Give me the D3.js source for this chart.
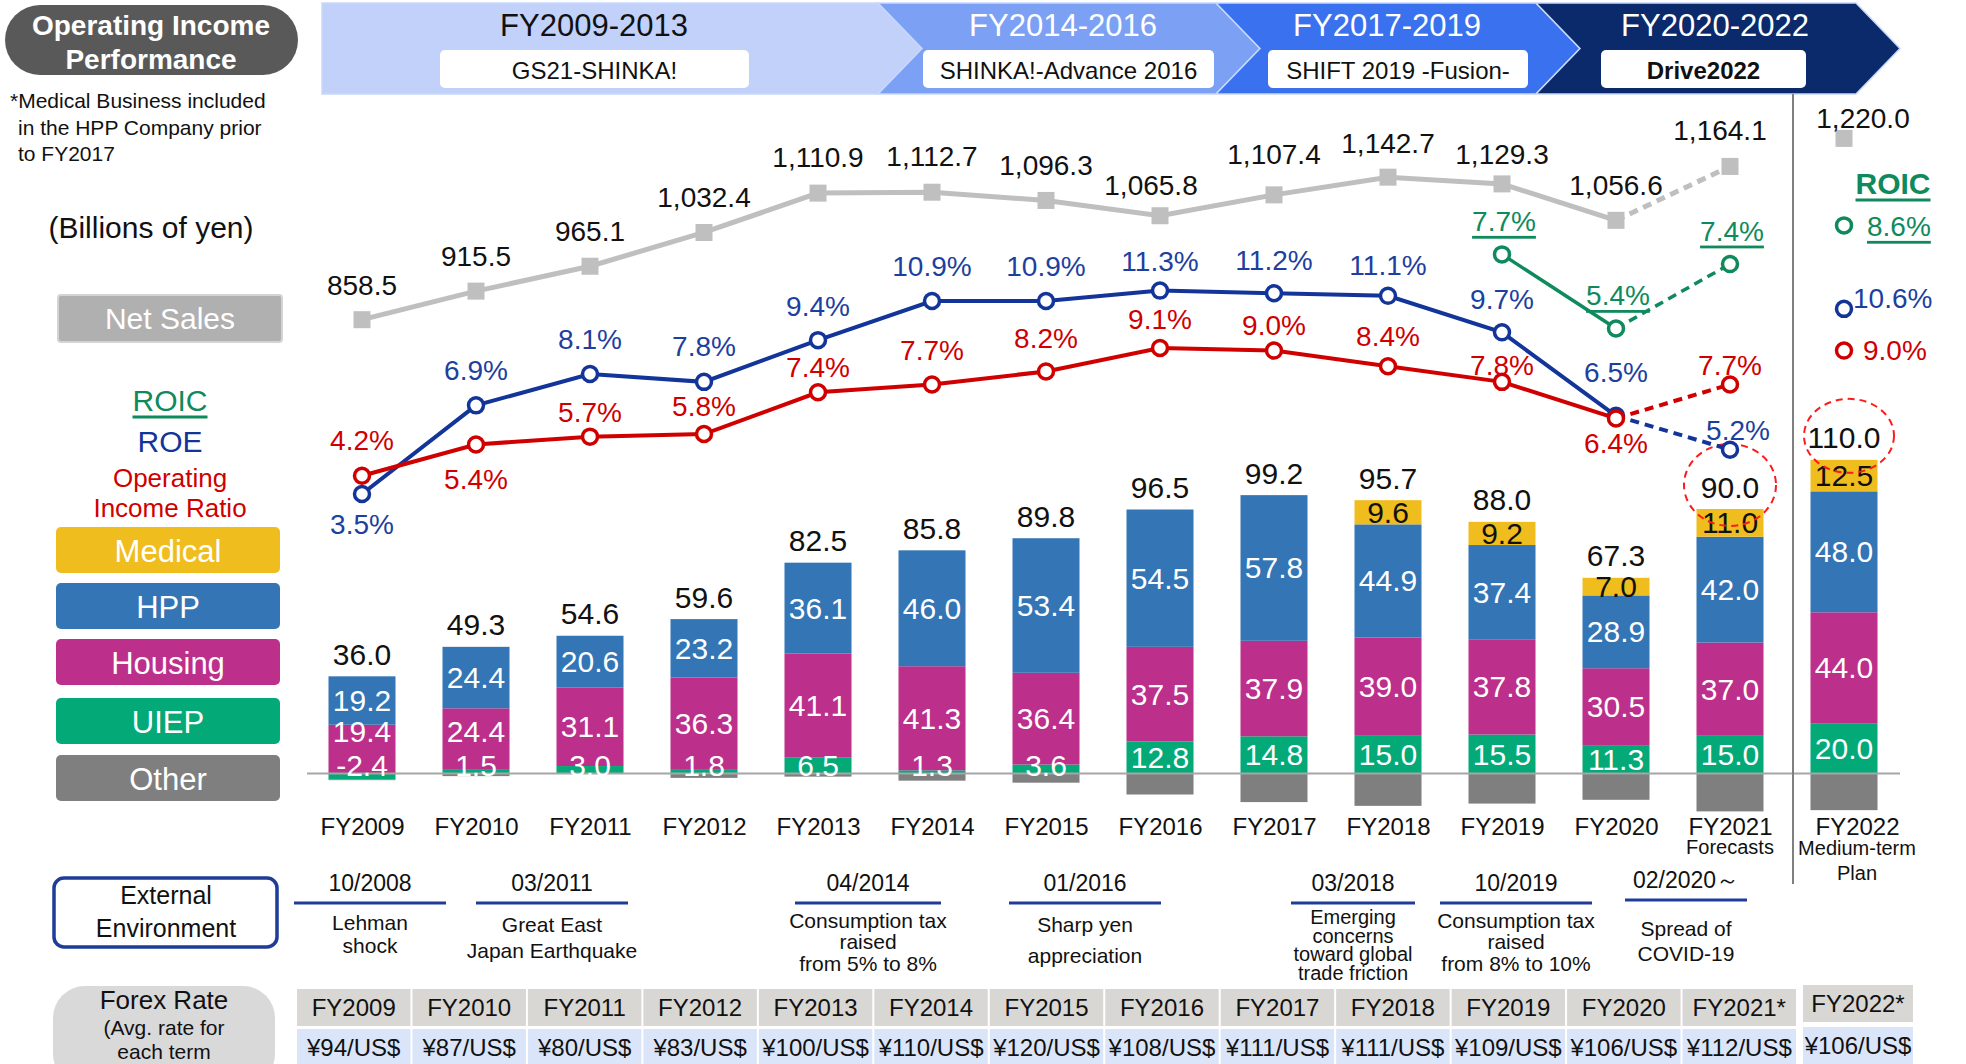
<!DOCTYPE html>
<html>
<head>
<meta charset="utf-8">
<script src="https://cdn.jsdelivr.net/npm/d3@7"></script>
<style>
html, body { margin: 0; padding: 0; background: #fff; }
svg { display: block; font-family: 'Liberation Sans', Arial, sans-serif; }
</style>
</head>
<body>
<div id="chart"></div>
<script>

/****************************************
 *
 * Data
 *
 ****************************************/

const years = ['FY2009', 'FY2010', 'FY2011', 'FY2012', 'FY2013', 'FY2014', 'FY2015',
	'FY2016', 'FY2017', 'FY2018', 'FY2019', 'FY2020', 'FY2021', 'FY2022']

// operating income by segment (billions of yen)
const medical = [0, 0, 0, 0, 0, 0, 0, 0, 0, 9.6, 9.2, 7.0, 11.0, 12.5]
const hpp = [19.2, 24.4, 20.6, 23.2, 36.1, 46.0, 53.4, 54.5, 57.8, 44.9, 37.4, 28.9, 42.0, 48.0]
const housing = [19.4, 24.4, 31.1, 36.3, 41.1, 41.3, 36.4, 37.5, 37.9, 39.0, 37.8, 30.5, 37.0, 44.0]
const uiep = [-2.4, 1.5, 3.0, 1.8, 6.5, 1.3, 3.6, 12.8, 14.8, 15.0, 15.5, 11.3, 15.0, 20.0]
const other = [-0.2, -1.0, -0.1, -1.7, -1.2, -2.8, -3.6, -8.3, -11.3, -12.8, -11.9, -10.4, -15.0, -14.5]
const totals = [36.0, 49.3, 54.6, 59.6, 82.5, 85.8, 89.8, 96.5, 99.2, 95.7, 88.0, 67.3, 90.0, 110.0]

// net sales (billions of yen) and ratios (%)
const netSales = [858.5, 915.5, 965.1, 1032.4, 1110.9, 1112.7, 1096.3, 1065.8, 1107.4, 1142.7, 1129.3, 1056.6, 1164.1, 1220.0]
const roe = [3.5, 6.9, 8.1, 7.8, 9.4, 10.9, 10.9, 11.3, 11.2, 11.1, 9.7, 6.5, 5.2, 10.6]
const opRatio = [4.2, 5.4, 5.7, 5.8, 7.4, 7.7, 8.2, 9.1, 9.0, 8.4, 7.8, 6.4, 7.7, 9.0]
const roic = [null, null, null, null, null, null, null, null, null, null, 7.7, 5.4, 7.4, 8.6]

// medium-term plans
const periods = ['FY2009-2013', 'FY2014-2016', 'FY2017-2019', 'FY2020-2022']
const plans = ['GS21-SHINKA!', 'SHINKA!-Advance 2016', 'SHIFT 2019 -Fusion-', 'Drive2022']

// external environment
const eventDates = ['10/2008', '03/2011', '04/2014', '01/2016', '03/2018', '10/2019', '02/2020～']
const eventTexts = [
	['Lehman', 'shock'],
	['Great East', 'Japan Earthquake'],
	['Consumption tax', 'raised', 'from 5% to 8%'],
	['Sharp yen', 'appreciation'],
	['Emerging', 'concerns', 'toward global', 'trade friction'],
	['Consumption tax', 'raised', 'from 8% to 10%'],
	['Spread of', 'COVID-19']
]

// forex (yen per US$)
const forexYears = ['FY2009', 'FY2010', 'FY2011', 'FY2012', 'FY2013', 'FY2014', 'FY2015',
	'FY2016', 'FY2017', 'FY2018', 'FY2019', 'FY2020', 'FY2021*', 'FY2022*']
const forexRate = [94, 87, 80, 83, 100, 110, 120, 108, 111, 111, 109, 106, 112, 106]

const segmentNames = ['Medical', 'HPP', 'Housing', 'UIEP', 'Other']
const segmentColors = ['#f0bd1e', '#3375b5', '#bc2f8a', '#04a978', '#7f7f7f']

/****************************************
 *
 * Chart
 *
 ****************************************/

let width = 1966
	, height = 1064
	, barWidth = 67
	, fmt = d3.format(',.1f')
	, pct = function (v) { return v.toFixed(1) + '%' }
	, color = d3.scaleOrdinal(segmentNames, segmentColors)
	, x = d3.scalePoint()
		.domain(years)
		.range([362, 1844])
	, yBar = d3.scaleLinear()
		.domain([0, 100])
		.range([773.6, 521.6])
	, ySales = d3.scaleLinear()
		.domain([858.5, 1220])
		.range([319.7, 138.4])
	, yPct = d3.scaleLinear()
		.domain([3.5, 11.3])
		.range([494, 290.6])
	, yRoic = d3.scaleLinear()
		.domain([5.4, 7.7])
		.range([328.5, 254.4])

const navy = '#13359a'
	, navyText = '#1d3fa0'
	, red = '#d00000'
	, green = '#0f8a5c'
	, gray = '#bfbfbf'

const svg = d3.select('#chart')
	.append('svg')
	.attr('width', width)
	.attr('height', height)

function label(g, txt, px, py, size, fill, anchor) {
	return g.append('text')
		.attr('x', px)
		.attr('y', py)
		.attr('text-anchor', anchor || 'middle')
		.attr('dominant-baseline', 'central')
		.style('font-size', size + 'px')
		.attr('fill', fill || '#000')
		.text(txt)
}

/**
 * top band with the medium-term plans
 */
const band = svg.append('g')
	, bandEdges = [322, 878, 1216, 1536, 1856]
	, tip = 44
	, bandTop = 3
	, bandBot = 94
	, bandMid = (bandTop + bandBot) / 2
	, bandFill = ['#c1d1fa', '#7ca1f4', '#3a71ef', '#0b2a6c']
	, bandInk = ['#111', '#fff', '#fff', '#fff']
	, planBox = [[440, 749], [923, 1214], [1268, 1528], [1601, 1806]]
	, periodX = [594, 1063, 1387, 1715]

periods.forEach(function (p, i) {
	let x0 = bandEdges[i]
		, x1 = bandEdges[i + 1]
		, d = 'M' + x0 + ',' + bandTop + 'L' + x1 + ',' + bandTop + 'L' + (x1 + tip) + ',' + bandMid
			+ 'L' + x1 + ',' + bandBot + 'L' + x0 + ',' + bandBot
	if (i > 0) d += 'L' + (x0 + tip) + ',' + bandMid
	band.append('path')
		.attr('d', d + 'Z')
		.attr('fill', bandFill[i])
		.attr('stroke', '#c9d7fb')
		.attr('stroke-width', 1.5)
	label(band, p, periodX[i], 25, 31, bandInk[i])
	band.append('rect')
		.attr('x', planBox[i][0])
		.attr('y', 50)
		.attr('width', planBox[i][1] - planBox[i][0])
		.attr('height', 38)
		.attr('rx', 5)
		.attr('fill', '#fff')
	label(band, plans[i], (planBox[i][0] + planBox[i][1]) / 2, 70, 24, '#111')
		.style('font-weight', i === 3 ? 'bold' : 'normal')
})

/**
 * title, note and legend
 */
const side = svg.append('g')

side.append('rect')
	.attr('x', 5).attr('y', 5)
	.attr('width', 293).attr('height', 70)
	.attr('rx', 35)
	.attr('fill', '#595959')
label(side, 'Operating Income', 151, 25, 28, '#fff').style('font-weight', 'bold')
label(side, 'Performance', 151, 59, 28, '#fff').style('font-weight', 'bold')

label(side, '*Medical Business included', 10, 100, 21, '#111', 'start')
label(side, 'in the HPP Company prior', 18, 127, 21, '#111', 'start')
label(side, 'to FY2017', 18, 153, 21, '#111', 'start')

label(side, '(Billions of yen)', 151, 227, 30, '#111')

side.append('rect')
	.attr('x', 58).attr('y', 295)
	.attr('width', 224).attr('height', 47)
	.attr('rx', 3)
	.attr('fill', '#b0b0b0')
	.attr('stroke', '#d4d4d4')
	.attr('stroke-width', 2)
label(side, 'Net Sales', 170, 318, 30, '#fff')

label(side, 'ROIC', 170, 400, 30, green).style('text-decoration', 'underline')
label(side, 'ROE', 170, 441, 30, navy)
label(side, 'Operating', 170, 478, 26, red)
label(side, 'Income Ratio', 170, 508, 26, red)

const legendTop = [527, 583, 639, 698, 755]
segmentNames.forEach(function (name, i) {
	side.append('rect')
		.attr('x', 56).attr('y', legendTop[i])
		.attr('width', 224).attr('height', 46)
		.attr('rx', 5)
		.attr('fill', color(name))
	label(side, name, 168, legendTop[i] + 24, 31, '#fff')
})

/**
 * stacked bars of operating income
 */
const rows = years.map(function (y, i) {
	return { year: y, Medical: medical[i], HPP: hpp[i], Housing: housing[i], UIEP: uiep[i], Other: other[i] }
})

const stacked = d3.stack()
	.keys(['UIEP', 'Housing', 'HPP', 'Medical', 'Other'])
	.offset(d3.stackOffsetDiverging)(rows)

const bars = svg.append('g')

stacked.forEach(function (s) {
	bars.append('g')
		.attr('fill', color(s.key))
		.selectAll('rect')
		.data(s.filter(function (d) { return d[1] !== d[0] }))
		.join('rect')
		.attr('x', function (d) { return x(d.data.year) - barWidth / 2 })
		.attr('y', function (d) { return yBar(Math.max(d[0], d[1])) })
		.attr('width', barWidth)
		.attr('height', function (d) { return Math.abs(yBar(d[0]) - yBar(d[1])) })
})

// zero line
svg.append('line')
	.attr('x1', 307).attr('x2', 1900)
	.attr('y1', yBar(0)).attr('y2', yBar(0))
	.attr('stroke', '#a6a6a6')
	.attr('stroke-width', 2)

// values inside the bars
// small UIEP values sit just above the zero line, the housing value is pushed up to make room
const barLabels = svg.append('g')
	, uiepY = []
stacked.forEach(function (s) {
	if (s.key === 'Other') return
	s.forEach(function (d, i) {
		let v = d.data[s.key]
		if (!v) return
		let cy = yBar((d[0] + d[1]) / 2)
		if (s.key === 'UIEP') {
			if (Math.abs(v) < 5) cy = Math.min(cy, yBar(0) - 8)
			uiepY[i] = cy
		}
		if (s.key === 'Housing' && uiepY[i] != null) cy = Math.min(cy, uiepY[i] - 34)
		label(barLabels, v.toFixed(1), x(d.data.year), cy, 30, s.key === 'Medical' ? '#111' : '#fff')
	})
})

// totals above the bars
const totalY = years.map(function (y, i) {
	let top = d3.sum([medical[i], hpp[i], housing[i], uiep[i]], function (v) { return Math.max(v, 0) })
	return yBar(top) - 22
})
years.forEach(function (y, i) {
	label(barLabels, totals[i].toFixed(1), x(y), totalY[i], 30, '#111')
})

// dashed circles around the forecast and plan totals
;[[12, 46, 41, 0], [13, 45, 37, 5]].forEach(function (c) {
	svg.append('ellipse')
		.attr('cx', x(years[c[0]]) + c[3])
		.attr('cy', totalY[c[0]] - 2)
		.attr('rx', c[1])
		.attr('ry', c[2])
		.attr('fill', 'none')
		.attr('stroke', '#ff1a1a')
		.attr('stroke-width', 2)
		.attr('stroke-dasharray', '7,5')
})

/**
 * x axis
 */
const axis = svg.append('g')
	.attr('transform', 'translate(0,' + yBar(0) + ')')
	.call(d3.axisBottom(x).tickSize(0).tickPadding(44))

axis.select('.domain').remove()
axis.selectAll('text')
	.style('font-size', '24px')
	.style('font-family', "'Liberation Sans', Arial, sans-serif")
	.attr('fill', '#111')
	.attr('dx', function (d) { return d === 'FY2022' ? 13 : 0 })

label(svg, 'Forecasts', x('FY2021'), 847, 20, '#111')
label(svg, 'Medium-term', x('FY2022') + 13, 848, 20, '#111')
label(svg, 'Plan', x('FY2022') + 13, 873, 20, '#111')

// separator before the plan year
svg.append('line')
	.attr('x1', 1793).attr('x2', 1793)
	.attr('y1', 94).attr('y2', 884)
	.attr('stroke', '#7f7f7f')
	.attr('stroke-width', 2)

/**
 * lines: net sales, ratios
 */
const solidIdx = d3.range(0, 12)
	, dashIdx = [11, 12]

function drawLine(scale, vals, idx, stroke, w, dash) {
	svg.append('path')
		.datum(idx.filter(function (i) { return vals[i] != null }))
		.attr('d', d3.line()
			.x(function (i) { return x(years[i]) })
			.y(function (i) { return scale(vals[i]) }))
		.attr('fill', 'none')
		.attr('stroke', stroke)
		.attr('stroke-width', w)
		.attr('stroke-dasharray', dash ? '9,6' : null)
}

function drawCircles(scale, vals, stroke) {
	svg.append('g')
		.selectAll('circle')
		.data(d3.range(vals.length).filter(function (i) { return vals[i] != null }))
		.join('circle')
		.attr('cx', function (i) { return x(years[i]) })
		.attr('cy', function (i) { return scale(vals[i]) })
		.attr('r', 7.5)
		.attr('fill', '#fff')
		.attr('stroke', stroke)
		.attr('stroke-width', 3.5)
}

// net sales
drawLine(ySales, netSales, solidIdx, gray, 5)
drawLine(ySales, netSales, dashIdx, gray, 5, true)
svg.append('g')
	.selectAll('rect')
	.data(netSales)
	.join('rect')
	.attr('x', function (d, i) { return x(years[i]) - 8.5 })
	.attr('y', function (d) { return ySales(d) - 8.5 })
	.attr('width', 17)
	.attr('height', 17)
	.attr('fill', gray)

const salesDy = [-34, -35, -35, -35, -36, -36, -35, -30, -40, -34, -29, -35, -36, -20]
	, salesDx = [0, 0, 0, 0, 0, 0, 0, -9, 0, 0, 0, 0, -10, 19]
netSales.forEach(function (v, i) {
	label(svg, fmt(v), x(years[i]) + salesDx[i], ySales(v) + salesDy[i], 28, '#111')
})

// ROE and operating income ratio
drawLine(yPct, roe, solidIdx, navy, 4)
drawLine(yPct, roe, dashIdx, navy, 4, true)
drawLine(yPct, opRatio, solidIdx, red, 4)
drawLine(yPct, opRatio, dashIdx, red, 4, true)
drawCircles(yPct, roe, navy)
drawCircles(yPct, opRatio, red)

// ROIC
drawLine(yRoic, roic, [10, 11], green, 3.5)
drawLine(yRoic, roic, dashIdx, green, 3.5, true)
drawCircles(yRoic, roic, green)

const roeDy = [30, -35, -35, -35, -34, -35, -35, -29, -33, -30, -33, -43, -19]
	, redDy = [-35, 35, -24, -28, -25, -34, -33, -28, -25, -30, -16, 25, -19]

roeDy.forEach(function (dy, i) {
	label(svg, pct(roe[i]), x(years[i]) + (i === 12 ? 8 : 0), yPct(roe[i]) + dy, 28, navyText)
	label(svg, pct(opRatio[i]), x(years[i]), yPct(opRatio[i]) + redDy[i], 28, red)
})

;[10, 11, 12].forEach(function (i) {
	label(svg, pct(roic[i]), x(years[i]) + 2, yRoic(roic[i]) - 33, 28, green)
		.style('text-decoration', 'underline')
})

// plan year ratios
label(svg, 'ROIC', 1893, 183, 30, green)
	.style('font-weight', 'bold')
	.style('text-decoration', 'underline')
label(svg, pct(roic[13]), x('FY2022') + 23, yRoic(roic[13]) + 1, 28, green, 'start')
	.style('text-decoration', 'underline')
label(svg, pct(roe[13]), x('FY2022') + 9, yPct(roe[13]) - 10, 28, navyText, 'start')
label(svg, pct(opRatio[13]), x('FY2022') + 19, yPct(opRatio[13]), 28, red, 'start')

/**
 * external environment
 */
const env = svg.append('g')
	, eventX = [370, 552, 868, 1085, 1353, 1516, 1686]
	, eventHalf = [76, 76, 73, 76, 62, 76, 61]
	, eventMid = [933.5, 937, 941.5, 939.5, 945, 941.5, 940.5]
	, eventGap = [23, 26, 21.5, 31, 18.7, 21.5, 25]

env.append('rect')
	.attr('x', 54).attr('y', 878)
	.attr('width', 223).attr('height', 69)
	.attr('rx', 10)
	.attr('fill', '#fff')
	.attr('stroke', '#1f3c98')
	.attr('stroke-width', 3.5)
label(env, 'External', 166, 895, 25, '#111')
label(env, 'Environment', 166, 928, 25, '#111')

eventDates.forEach(function (date, i) {
	let cx = eventX[i]
		, lineY = i === 6 ? 900 : 903
	label(env, date, cx, lineY - 20, 23, '#111')
	env.append('line')
		.attr('x1', cx - eventHalf[i]).attr('x2', cx + eventHalf[i])
		.attr('y1', lineY).attr('y2', lineY)
		.attr('stroke', '#1f3c98')
		.attr('stroke-width', 3)
	let lines = eventTexts[i]
		, y0 = eventMid[i] - (lines.length - 1) * eventGap[i] / 2
	lines.forEach(function (t, j) {
		label(env, t, cx, y0 + j * eventGap[i], i === 4 ? 20 : 21, '#111')
	})
})

/**
 * forex table
 */
const fx = svg.append('g')
	, col = d3.scaleBand()
		.domain(forexYears.slice(0, 13))
		.range([296, 1797])

fx.append('rect')
	.attr('x', 53).attr('y', 986)
	.attr('width', 222).attr('height', 100)
	.attr('rx', 32)
	.attr('fill', '#d9d9d9')
label(fx, 'Forex Rate', 164, 1000, 26, '#111')
label(fx, '(Avg. rate for', 164, 1027, 21, '#111')
label(fx, 'each term', 164, 1051, 21, '#111')

forexYears.forEach(function (fy, i) {
	let cx0 = i < 13 ? col(fy) : 1802
		, w = i < 13 ? col.bandwidth() : 112
		, hy = i < 13 ? 989 : 985
		, vy = i < 13 ? 1029 : 1027
	fx.append('rect')
		.attr('x', cx0 + 1).attr('y', hy)
		.attr('width', w - 2).attr('height', 37)
		.attr('fill', '#d8d7d4')
	fx.append('rect')
		.attr('x', cx0 + 1).attr('y', vy)
		.attr('width', w - 2).attr('height', 38)
		.attr('fill', '#dae5fa')
	label(fx, fy, cx0 + w / 2, hy + 18, 24, '#111')
	label(fx, '¥' + forexRate[i] + '/US$', cx0 + w / 2, vy + 18, 24, '#111')
})

</script>
</body>
</html>
